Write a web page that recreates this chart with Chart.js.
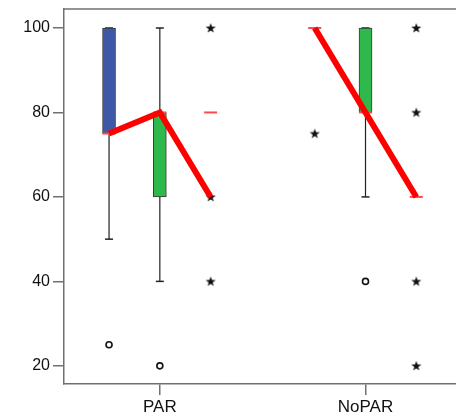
<!DOCTYPE html>
<html><head><meta charset="utf-8">
<script src="https://cdn.jsdelivr.net/npm/chart.js@4.4.1/dist/chart.umd.min.js"></script>
<style>html,body{margin:0;padding:0;background:#fff}canvas{display:block}</style>
</head><body>
<canvas id="c" width="456" height="417" style="width:456px;height:417px"></canvas>
<script>
// ---- data ----
const categories = ['PAR', 'NoPAR'];
const yTicks = [20, 40, 60, 80, 100];

// blue box series
const blueQ1 = [75, null];
const blueQ3 = [100, null];
const blueMedian = [75, 100];
const blueLow = [50, null];
const blueHigh = [100, null];
const blueOutliers = [[25], []];
const blueExtremes = [[], [75]];

// green box series
const greenQ1 = [60, 80];
const greenQ3 = [80, 100];
const greenMedian = [80, 80];
const greenLow = [40, 60];
const greenHigh = [100, 100];
const greenOutliers = [[20], [40]];
const greenExtremes = [[], []];

// third series (collapsed box)
const thirdMedian = [80, 60];
const thirdOutliers = [[], []];
const thirdExtremes = [[100, 60, 40], [100, 80, 40, 20]];

// red connecting line per category (series 1,2,3)
const redLine = [[75, 80, 60], [100, 80, 60]];

// ---- layout helpers ----
const OFF = [-0.247, 0, 0.247];
const xOf = (ci, si) => ci + 1 + OFF[si];

const series = [
  {q1: blueQ1, q3: blueQ3, med: blueMedian, lo: blueLow, hi: blueHigh, out: blueOutliers, ext: blueExtremes, color: '#3d58a6'},
  {q1: greenQ1, q3: greenQ3, med: greenMedian, lo: greenLow, hi: greenHigh, out: greenOutliers, ext: greenExtremes, color: '#2fb84c'},
  {q1: [null, null], q3: [null, null], med: thirdMedian, lo: [null, null], hi: [null, null], out: thirdOutliers, ext: thirdExtremes, color: '#888'}
];

const datasets = [];
// whiskers
const whiskerPts = [], capPts = [];
series.forEach((s, si) => categories.forEach((c, ci) => {
  if (s.lo[ci] != null && s.hi[ci] != null) {
    const x = xOf(ci, si);
    whiskerPts.push({x, y: s.lo[ci]}, {x, y: s.hi[ci]}, {x, y: null});
    capPts.push({x, y: s.lo[ci]}, {x, y: s.hi[ci]});
  }
}));
datasets.push({type: 'line', data: whiskerPts, borderColor: '#222', borderWidth: 1.2, pointRadius: 0, spanGaps: false, order: 9});
datasets.push({type: 'scatter', data: capPts, pointStyle: 'line', pointRadius: 4, borderColor: '#222', borderWidth: 1.5, order: 8});
// boxes
series.forEach((s, si) => {
  const pts = [];
  categories.forEach((c, ci) => {
    if (s.q1[ci] != null && s.q3[ci] != null) pts.push({x: xOf(ci, si), y: [s.q1[ci], s.q3[ci]]});
  });
  if (pts.length) datasets.push({type: 'bar', data: pts, backgroundColor: s.color, borderColor: '#3a3a3a', borderWidth: 1, borderSkipped: false, barThickness: 13, grouped: false, order: 7});
});
// medians
const medPts = [];
series.forEach((s, si) => categories.forEach((c, ci) => {
  if (s.med[ci] != null) medPts.push({x: xOf(ci, si), y: s.med[ci]});
}));
datasets.push({type: 'scatter', data: medPts, pointStyle: 'line', pointRadius: 6.5, borderColor: '#ff4a4a', borderWidth: 2, order: 6});
// outliers (circles)
const outPts = [], extPts = [];
series.forEach((s, si) => categories.forEach((c, ci) => {
  s.out[ci].forEach(v => outPts.push({x: xOf(ci, si), y: v}));
  s.ext[ci].forEach(v => extPts.push({x: xOf(ci, si), y: v}));
}));
datasets.push({type: 'scatter', data: outPts, pointStyle: 'circle', pointRadius: 3, backgroundColor: '#fff', borderColor: '#111', borderWidth: 1.6, order: 5});

// star marker image
const star = document.createElement('canvas');
star.width = 12; star.height = 12;
(function () {
  const g = star.getContext('2d');
  g.fillStyle = '#111';
  g.beginPath();
  const cx = 6, cy = 6.3, R = 5.3, r = 2.1;
  for (let i = 0; i < 10; i++) {
    const a = -Math.PI / 2 + i * Math.PI / 5;
    const rr = i % 2 ? r : R;
    const px = cx + rr * Math.cos(a), py = cy + rr * Math.sin(a);
    i ? g.lineTo(px, py) : g.moveTo(px, py);
  }
  g.closePath(); g.fill();
})();
datasets.push({type: 'scatter', data: extPts, pointStyle: star, pointRadius: 6, order: 4});

// red line
const redPts = [];
redLine.forEach((vals, ci) => {
  vals.forEach((v, si) => redPts.push({x: xOf(ci, si), y: v}));
  redPts.push({x: xOf(ci, 2), y: null});
});
datasets.push({type: 'line', data: redPts, borderColor: '#ff0000', borderWidth: 6, pointRadius: 0, spanGaps: false, tension: 0, borderCapStyle: 'butt', borderJoinStyle: 'miter', order: 1});

const frameColor = '#707070';
const topFrame = {
  id: 'topFrame',
  afterDraw(chart) {
    const {ctx, chartArea: a} = chart;
    ctx.save();
    ctx.strokeStyle = frameColor; ctx.lineWidth = 1.5;
    ctx.beginPath(); ctx.moveTo(a.left, a.top); ctx.lineTo(a.right, a.top); ctx.stroke();
    ctx.restore();
  }
};

new Chart(document.getElementById('c'), {
  type: 'scatter',
  data: {datasets},
  plugins: [topFrame],
  options: {
    responsive: false, animation: false, devicePixelRatio: 1,
    layout: {autoPadding: false, padding: {top: 9, left: 0, right: 0, bottom: 0}},
    plugins: {legend: {display: false}, tooltip: {enabled: false}},
    scales: {
      x: {
        type: 'linear', min: 0.534, max: 2.44, offset: false,
        afterFit: s => { s.height = 33; s.paddingLeft = 0; s.paddingRight = 0; },
        afterBuildTicks: s => { s.ticks = categories.map((c, i) => ({value: i + 1})); },
        ticks: {callback: (v) => categories[Math.round(v) - 1], font: {family: 'Liberation Sans', size: 17}, color: '#111', padding: 2, maxRotation: 0, autoSkip: false},
        grid: {offset: false, drawOnChartArea: false, drawTicks: true, tickLength: 11, color: frameColor, lineWidth: 1.5},
        border: {display: true, color: frameColor, width: 1.5}
      },
      y: {
        type: 'linear', min: 15.7, max: 104.5,
        afterFit: s => { s.width = 64; s.paddingTop = 0; s.paddingBottom = 0; },
        afterBuildTicks: s => { s.ticks = yTicks.map(v => ({value: v})); },
        ticks: {font: {family: 'Liberation Sans', size: 16}, color: '#111', padding: 3},
        grid: {drawOnChartArea: false, drawTicks: true, tickLength: 11, color: frameColor, lineWidth: 1.5},
        border: {display: true, color: frameColor, width: 1.5}
      }
    }
  }
});
</script>
</body></html>
